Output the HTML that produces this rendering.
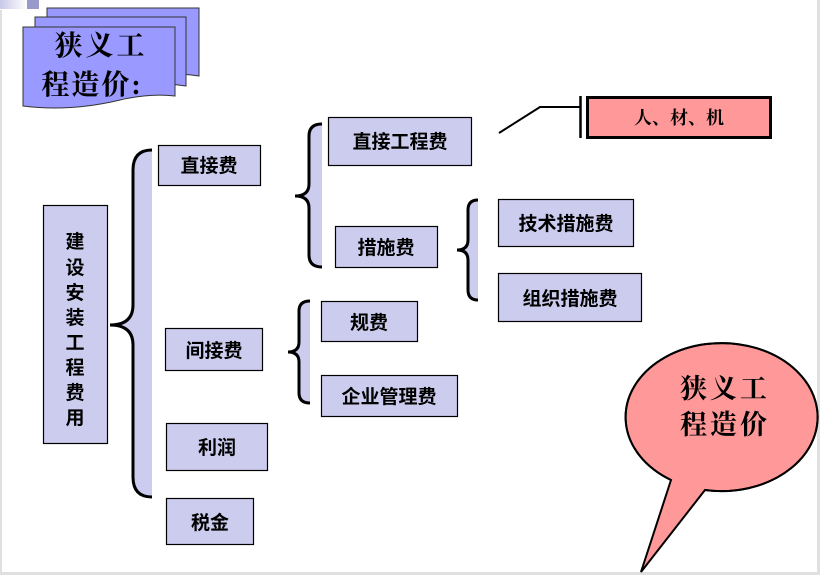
<!DOCTYPE html>
<html><head><meta charset="utf-8"><style>
html,body{margin:0;padding:0;background:#fff;}
svg{display:block;}
.b{font-family:"Liberation Sans","Noto Sans CJK SC",sans-serif;font-weight:bold;font-size:19px;fill:#000;}
.k{font-family:"Liberation Serif","Noto Serif CJK SC",serif;fill:#000;}
</style></head><body>
<svg width="820" height="575" viewBox="0 0 820 575" xmlns="http://www.w3.org/2000/svg">
<defs><linearGradient id="g" x1="0" x2="1"><stop offset="0" stop-color="#c8c8e8"/><stop offset="1" stop-color="#ffffff"/></linearGradient></defs>
<rect x="0" y="0" width="820" height="575" fill="#fff"/>
<rect x="0" y="0" width="27" height="9" fill="url(#g)"/>
<rect x="27" y="0" width="12" height="9" fill="#9999cc"/>
<rect x="0" y="10" width="2" height="565" fill="#e0e0e0"/>
<rect x="0" y="572" width="820" height="3" fill="#e0e0e0"/>
<rect x="817" y="0" width="3" height="575" fill="#e0e0e0"/>

<!-- title cards -->
<g fill="#9999ff" stroke="#333" stroke-width="1">
<path d="M47,8 H199 V76 Q175,72 150,78 Q110,86 47,76 Z"/>
<path d="M35,17 H186 V86 Q162,82 138,88 Q98,96 35,86 Z"/>
<path d="M23,27 H175 V96 Q150,93 120,100 Q70,112 23,106 Z"/>
</g>
<text class="k" x="101" y="55" font-size="28" font-weight="bold" letter-spacing="3" text-anchor="middle">狭义工</text>
<text class="k" x="92" y="94" font-size="28" font-weight="bold" letter-spacing="2" text-anchor="middle">程造价:</text>

<!-- braces -->
<g fill="#ccccee" stroke="none">
<path d="M152,150 Q133,150 133,170 L133,305 Q133,325 110,325 Q133,325 133,345 L133,477 Q133,497 152,497 Z"/>
<path d="M322,124 Q309,124 309,136 L309,184 Q309,196 295,196 Q309,196 309,208 L309,255 Q309,267 322,267 Z"/>
<path d="M478,200 Q468,200 468,210 L468,240 Q468,250 457,250 Q468,250 468,260 L468,290 Q468,300 478,300 Z"/>
<path d="M310,301 Q299,301 299,311 L299,342 Q299,352 288,352 Q299,352 299,362 L299,393 Q299,403 310,403 Z"/>
</g>
<g fill="none" stroke="#000" stroke-width="3">
<path d="M152,150 Q133,150 133,170 L133,305 Q133,325 110,325 Q133,325 133,345 L133,477 Q133,497 152,497"/>
<path d="M322,124 Q309,124 309,136 L309,184 Q309,196 295,196 Q309,196 309,208 L309,255 Q309,267 322,267"/>
<path d="M478,200 Q468,200 468,210 L468,240 Q468,250 457,250 Q468,250 468,260 L468,290 Q468,300 478,300"/>
<path d="M310,301 Q299,301 299,311 L299,342 Q299,352 288,352 Q299,352 299,362 L299,393 Q299,403 310,403"/>
</g>

<!-- boxes -->
<g fill="#ccccee" stroke="#000" stroke-width="1.2">
<rect x="43.5" y="205.5" width="64" height="238"/>
<rect x="158.5" y="145.5" width="102" height="40"/>
<rect x="165.5" y="328.5" width="97" height="42"/>
<rect x="166.5" y="423.5" width="101" height="47"/>
<rect x="166.5" y="498.5" width="87" height="46"/>
<rect x="328.5" y="117.5" width="143" height="48"/>
<rect x="335.5" y="226.5" width="102" height="41"/>
<rect x="321.5" y="301.5" width="96" height="40"/>
<rect x="321.5" y="375.5" width="136" height="41"/>
<rect x="498.5" y="199.5" width="135" height="47"/>
<rect x="498.5" y="273.5" width="143" height="48"/>
</g>
<g class="b" text-anchor="middle">
<text x="75" y="248">建</text><text x="75" y="274">设</text><text x="75" y="299">安</text><text x="75" y="324">装</text>
<text x="75" y="349">工</text><text x="75" y="374">程</text><text x="75" y="399">费</text><text x="75" y="424">用</text>
<text x="209" y="172">直接费</text>
<text x="214" y="357">间接费</text>
<text x="217" y="454">利润</text>
<text x="210" y="529">税金</text>
<text x="400" y="148">直接工程费</text>
<text x="386" y="254">措施费</text>
<text x="369" y="329">规费</text>
<text x="389" y="403">企业管理费</text>
<text x="566" y="230">技术措施费</text>
<text x="570" y="305">组织措施费</text>
</g>

<!-- 人材机 -->
<polyline points="499,133 540,107 580,107" fill="none" stroke="#000" stroke-width="2"/>
<line x1="580.5" y1="96" x2="580.5" y2="138" stroke="#000" stroke-width="2.5"/>
<rect x="587.5" y="97.5" width="183" height="40" fill="#ff9999" stroke="#000" stroke-width="3"/>
<text class="k" x="679" y="124" font-size="18" text-anchor="middle" font-weight="bold">人、材、机</text>

<!-- callout -->
<path d="M671,480 L641,572 L705,490 A96,74 0 1 0 671,480 Z" fill="#ff9999" stroke="#000" stroke-width="2"/>
<path d="M671,480 A96,74 0 1 1 705,490" fill="none" stroke="#000" stroke-width="2"/>
<text class="k" x="725" y="398" font-size="27" font-weight="bold" letter-spacing="3" text-anchor="middle">狭义工</text>
<text class="k" x="725" y="434" font-size="27" font-weight="bold" letter-spacing="3" text-anchor="middle">程造价</text>
</svg>
</body></html>
